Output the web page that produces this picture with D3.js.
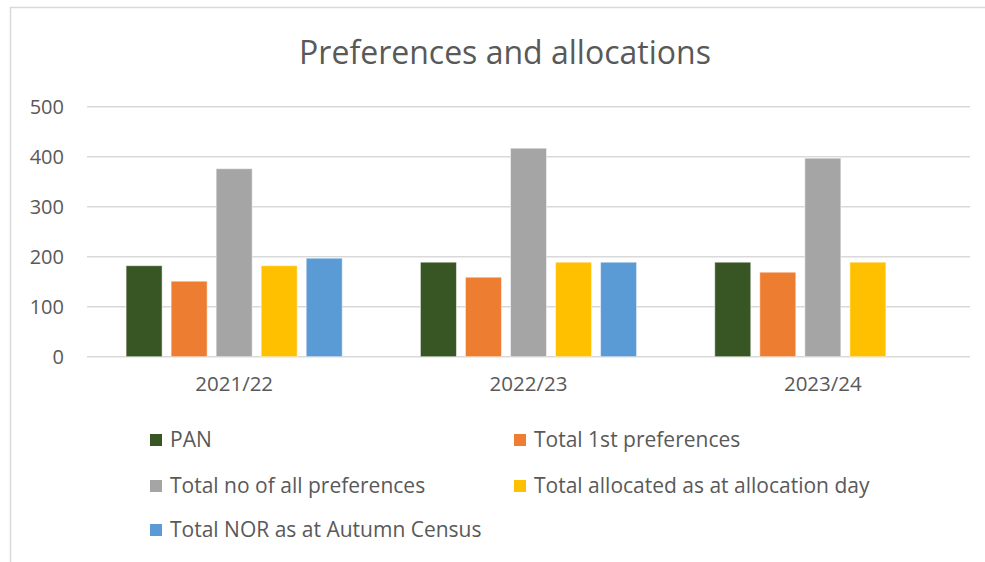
<!DOCTYPE html>
<html>
<head>
<meta charset="utf-8">
<script src="https://cdn.jsdelivr.net/npm/d3@7"></script>
<style>
  body { margin: 0; background: #fff; }
  text { font-family: "Open Sans", sans-serif; fill: #595959; }
</style>
</head>
<body>
<svg width="985" height="562"></svg>
<script>
var years = ["2021/22", "2022/23", "2023/24"];
var seriesNames = ["PAN", "Total 1st preferences", "Total no of all preferences",
                   "Total allocated as at allocation day", "Total NOR as at Autumn Census"];
var pan = [182, 189, 189];
var firstPrefs = [151, 159, 169];
var allPrefs = [376, 417, 397];
var allocated = [182, 189, 189];
var nor = [197, 189, null];
var colors = ["#375623", "#ed7d31", "#a5a5a5", "#ffc000", "#5b9bd5"];
var yTicks = [0, 100, 200, 300, 400, 500];

var allSeries = [pan, firstPrefs, allPrefs, allocated, nor];

var svg = d3.select("svg"),
    width = +svg.attr("width"),
    height = +svg.attr("height");

// chart frame
svg.append("rect")
    .attr("x", 10.5).attr("y", 7.5)
    .attr("width", 990).attr("height", 600)
    .style("fill", "none").style("stroke", "#d9d9d9").style("stroke-width", "1.5px");

svg.append("text")
    .attr("x", 505).attr("y", 63.5)
    .style("text-anchor", "middle")
    .style("font-size", "32px")
    .text("Preferences and allocations");

var plotLeft = 87, plotRight = 970, plotTop = 106.7, plotBottom = 356.7;

var y = d3.scaleLinear().domain([0, 500]).range([plotBottom, plotTop]);
var x0 = d3.scaleBand().domain(years).range([plotLeft, plotRight])
    .paddingInner(0.235).paddingOuter(0.1175);
var x1 = d3.scaleBand().domain(d3.range(seriesNames.length)).range([0, x0.bandwidth()])
    .paddingInner(0.2).paddingOuter(0.1);

// gridlines
svg.append("g")
  .selectAll("line")
  .data(yTicks)
  .enter().append("line")
    .attr("x1", plotLeft).attr("x2", plotRight)
    .attr("y1", function(d) { return y(d); })
    .attr("y2", function(d) { return y(d); })
    .style("stroke", "#d9d9d9").style("stroke-width", "1.5px");

// y axis labels
var yAxis = svg.append("g")
    .attr("transform", "translate(" + plotLeft + ",0)")
    .call(d3.axisLeft(y).tickValues(yTicks).tickSize(0).tickPadding(23));
yAxis.select(".domain").remove();
yAxis.selectAll("text").style("font-size", "20px").style("font-family", "Open Sans").attr("fill", "#595959");

// x axis labels
var xAxis = svg.append("g")
    .attr("transform", "translate(0," + plotBottom + ")")
    .call(d3.axisBottom(x0).tickSize(0).tickPadding(20));
xAxis.select(".domain").remove();
xAxis.selectAll("text").style("font-size", "20.5px").style("font-family", "Open Sans").attr("fill", "#595959");

// bars
var rows = [];
years.forEach(function(yr, i) {
  allSeries.forEach(function(s, k) {
    if (s[i] != null) rows.push({year: yr, k: k, value: s[i]});
  });
});

svg.append("g")
  .selectAll("rect")
  .data(rows)
  .enter().append("rect")
    .attr("x", function(d) { return x0(d.year) + x1(d.k); })
    .attr("y", function(d) { return y(d.value); })
    .attr("width", x1.bandwidth())
    .attr("height", function(d) { return plotBottom - y(d.value); })
    .style("fill", function(d) { return colors[d.k]; })
    .style("stroke", "#fff").style("stroke-opacity", 0.5).style("stroke-width", "1px");

// legend
var legendPos = [[150, 440], [514, 440], [150, 486], [514, 486], [150, 530]];
var legend = svg.append("g")
  .selectAll("g")
  .data(seriesNames)
  .enter().append("g")
    .attr("transform", function(d, i) { return "translate(" + legendPos[i][0] + "," + legendPos[i][1] + ")"; });

legend.append("rect")
    .attr("x", 0).attr("y", -6)
    .attr("width", 12).attr("height", 12)
    .style("fill", function(d, i) { return colors[i]; });

legend.append("text")
    .attr("x", 20).attr("y", 7)
    .style("font-size", "21px")
    .text(function(d) { return d; });
</script>
</body>
</html>
